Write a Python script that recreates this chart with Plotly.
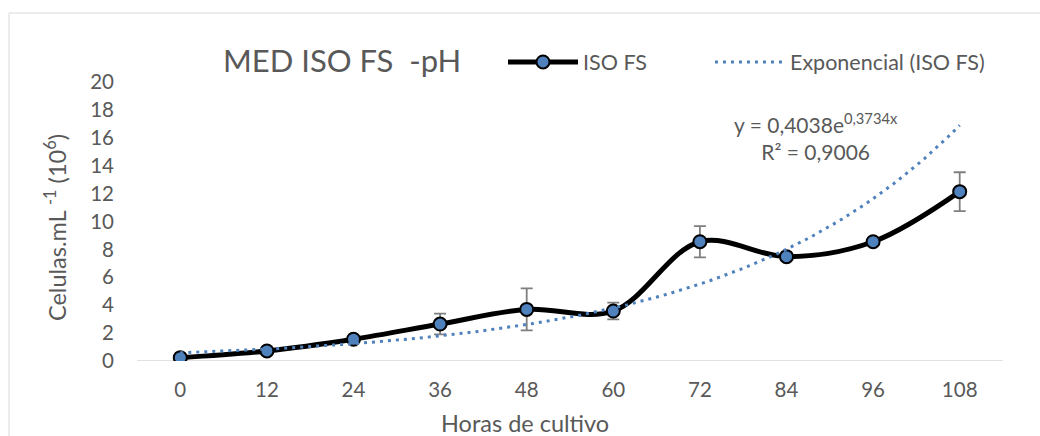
import numpy as np
import plotly.graph_objects as go

# Culture time (hours) and cell counts (10^6 cells/mL)
horas = ["0", "12", "24", "36", "48", "60", "72", "84", "96", "108"]
celulas = [0.24, 0.72, 1.56, 2.65, 3.70, 3.58, 8.55, 7.48, 8.55, 12.14]
desvio = [0.0, 0.0, 0.0, 0.74, 1.50, 0.60, 1.12, 0.0, 0.0, 1.39]

# Exponential trendline coefficients (x = point index 1..n)
coef_a = 0.4038
coef_b = 0.3734
r2 = "0,9006"

y_ticks = list(range(0, 21, 2))

TXT = "#595959"
BLUE = "#4F81BD"
FONT = "Lato, 'Open Sans', sans-serif"

idx = np.arange(len(horas))
x_fine = np.linspace(0, len(horas) - 1, 200)
trend = coef_a * np.exp(coef_b * (x_fine + 1))

fig = go.Figure()

fig.add_trace(go.Scatter(
    x=idx, y=celulas, name="ISO FS",
    mode="lines+markers",
    line=dict(color="black", width=5, shape="spline", smoothing=1.0),
    marker=dict(size=13, color=BLUE, line=dict(color="black", width=2)),
    error_y=dict(type="data", array=desvio, visible=True,
                 color="#7F7F7F", thickness=1.8, width=6),
    legend="legend",
))

fig.add_trace(go.Scatter(
    x=x_fine, y=trend, name="Exponencial (ISO FS)",
    mode="lines",
    line=dict(color=BLUE, width=3, dash="3px,5px"),
    legend="legend2",
))

# chart frame
L, R, T, B = 137, 1003, 82, 361
W, H = 1040, 436
def px(xp):
    return (xp - L) / (R - L)
def py(yp):
    return (B - yp) / (B - T)

fig.add_shape(type="rect", xref="paper", yref="paper",
              x0=px(9), x1=px(1046), y0=py(442), y1=py(13),
              line=dict(color="#D9D9D9", width=1), fillcolor="rgba(0,0,0,0)",
              layer="below")

fig.add_annotation(xref="paper", yref="paper", x=px(342), y=py(60),
                   text="MED ISO FS\u00a0\u00a0-pH", showarrow=False,
                   font=dict(size=31, color=TXT, family=FONT),
                   xanchor="center", yanchor="middle")

fig.add_annotation(xref="paper", yref="paper", x=px(525), y=py(423),
                   text="Horas de cultivo", showarrow=False,
                   font=dict(size=23.5, color=TXT, family=FONT),
                   xanchor="center", yanchor="middle")

fig.add_annotation(xref="paper", yref="paper", x=px(55), y=py(228),
                   text="Celulas.mL <sup>-1</sup> (10<sup>6</sup>)", showarrow=False,
                   textangle=-90,
                   font=dict(size=23.5, color=TXT, family=FONT),
                   xanchor="center", yanchor="middle")

fig.add_annotation(xref="paper", yref="paper", x=px(816), y=py(136),
                   text="y = %se<sup>%sx</sup><br>R² = %s" % (
                       str(coef_a).replace(".", ","), str(coef_b).replace(".", ","), r2),
                   showarrow=False, align="center",
                   font=dict(size=21, color=TXT, family=FONT),
                   xanchor="center", yanchor="middle")

legend_style = dict(orientation="h", y=py(62), xanchor="left", yanchor="middle",
                    itemwidth=70, font=dict(size=21.5, color=TXT, family=FONT),
                    bgcolor="rgba(0,0,0,0)")

fig.update_layout(
    width=W, height=H,
    margin=dict(l=L, r=W - R, t=T, b=H - B),
    paper_bgcolor="white", plot_bgcolor="white",
    font=dict(family=FONT, color=TXT, size=20),
    showlegend=True,
    legend=dict(x=px(503), **legend_style),
    legend2=dict(x=px(710), **legend_style),
    xaxis=dict(range=[-0.5, len(horas) - 0.5], tickmode="array", tickvals=idx,
               ticktext=horas, showgrid=False, zeroline=False, showline=False,
               ticks="", ticklabelstandoff=14, fixedrange=True,
               tickfont=dict(size=20.5)),
    yaxis=dict(range=[0, 20], tickvals=y_ticks, showgrid=False, zeroline=False,
               showline=False, ticks="", ticklabelstandoff=22, fixedrange=True,
               tickfont=dict(size=20.5)),
)

# horizontal category axis line at y=0
fig.add_shape(type="line", xref="paper", yref="y", x0=0, x1=1, y0=0, y1=0,
              line=dict(color="#D9D9D9", width=1.5), layer="below")

fig.write_html("out.html")
